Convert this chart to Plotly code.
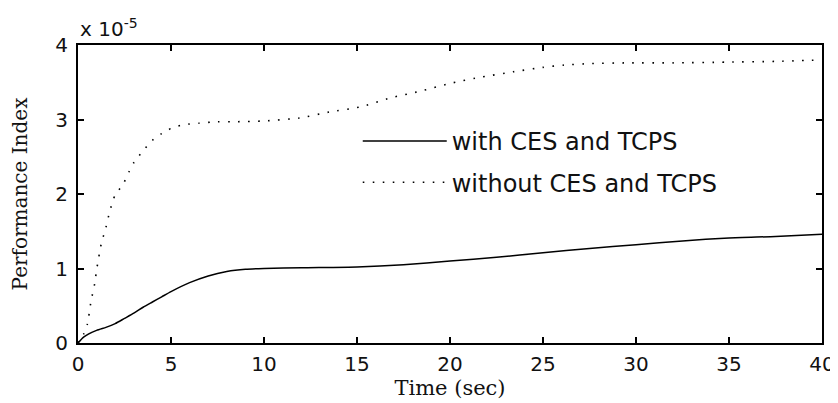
import plotly.graph_objects as go

# Time axis (sec) and performance index values (in units of 1e-5)
t_with = [0, 0.3, 1.0, 1.5, 2.0, 2.5, 3.0, 3.5, 4.0, 4.5, 5.0, 6.0, 7.0, 8.0, 9.0,
          10, 12, 15, 17.5, 20, 22.5, 25, 27.5, 30, 32.5, 35, 37.5, 40]
v_with = [0, 0.08, 0.17, 0.21, 0.26, 0.33, 0.40, 0.48, 0.55, 0.62, 0.69, 0.81, 0.90, 0.96, 0.99,
          1.0, 1.01, 1.02, 1.05, 1.10, 1.15, 1.21, 1.27, 1.32, 1.37, 1.41, 1.43, 1.46]

t_without = [0, 0.3, 0.5, 0.7, 0.9, 1.0, 1.25, 1.5, 1.7, 2.0, 2.4, 2.75, 3.0, 3.5, 4.0, 4.5,
             5.0, 5.5, 6.0, 6.5, 7.5, 8.5, 10, 11.9, 13.5, 15.2, 16.8, 18.4, 20.1, 21.7,
             23.4, 25, 26.1, 27.5, 29.5, 32, 34.9, 37.5, 40]
v_without = [0, 0.12, 0.25, 0.56, 0.80, 0.98, 1.33, 1.55, 1.76, 1.99, 2.12, 2.30, 2.42, 2.58, 2.72, 2.81,
             2.88, 2.92, 2.94, 2.95, 2.97, 2.97, 2.98, 3.02, 3.10, 3.17, 3.29, 3.38, 3.49, 3.57,
             3.64, 3.70, 3.73, 3.75, 3.76, 3.76, 3.77, 3.78, 3.80]

series_names = ["with CES and TCPS", "without CES and TCPS"]
x_ticks = [0, 5, 10, 15, 20, 25, 30, 35, 40]
y_ticks = [0, 1, 2, 3, 4]
x_title = "Time (sec)"
y_title = "Performance Index"
exponent_label = "x 10<sup>-5</sup>"

fig = go.Figure()
fig.add_trace(go.Scatter(
    x=t_with, y=v_with, mode="lines", name=series_names[0],
    line=dict(color="black", width=1.5, shape="spline", smoothing=0.6),
    legendgroup="a",
))
fig.add_trace(go.Scatter(
    x=t_without, y=v_without, mode="lines", name=series_names[1],
    line=dict(color="black", width=1.6, dash="1.6px,8.4px", shape="spline", smoothing=0.6),
    legendgroup="b",
))

axis_common = dict(
    showline=True, linecolor="black", linewidth=2, mirror="ticks",
    ticks="inside", ticklen=6, tickwidth=2, tickcolor="black",
    showgrid=False, zeroline=False, automargin=False,
    tickfont=dict(family="DejaVu Sans", size=20, color="#111"),
)

# page body has an 8px default margin; figure size/margins compensate for it
fig.update_layout(
    width=830, height=395,
    margin=dict(l=70, r=16, t=37, b=60),
    paper_bgcolor="white", plot_bgcolor="white",
    showlegend=True,
    legend=dict(
        x=0.376, y=0.752, xanchor="left", yanchor="top",
        bgcolor="rgba(0,0,0,0)", borderwidth=0,
        font=dict(family="DejaVu Sans", size=24, color="#111"),
        itemwidth=84, tracegroupgap=7,
    ),
    xaxis=dict(range=[0, 40], tickvals=x_ticks, ticklabelstandoff=2,
               title=dict(text=x_title, font=dict(family="DejaVu Serif", size=21, color="#111"), standoff=4),
               **axis_common),
    yaxis=dict(range=[0, 4], tickvals=y_ticks, ticklabelstandoff=4,
               title=dict(text=y_title, font=dict(family="DejaVu Serif", size=20, color="#111"), standoff=22),
               **axis_common),
)

fig.add_annotation(
    text=exponent_label, xref="paper", yref="paper", x=0, y=1,
    xanchor="left", yanchor="bottom", yshift=2, showarrow=False,
    font=dict(family="DejaVu Sans", size=20, color="#111"),
)

fig.write_html("out.html")
